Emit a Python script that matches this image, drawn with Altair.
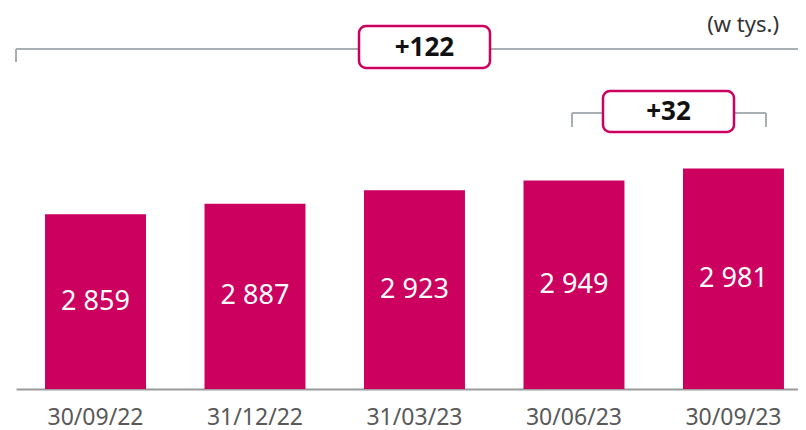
import altair as alt
import pandas as pd

dates = ["30/09/22", "31/12/22", "31/03/23", "30/06/23", "30/09/23"]
values = [2859, 2887, 2923, 2949, 2981]
unit_label = "(w tys.)"

Y_MIN, Y_MAX = 2394, 3408
MAGENTA = "#CC005F"
GRAY = "#A7AFB2"

df = pd.DataFrame({
    "date": dates,
    "value": values,
    "label": [f"{v:,}".replace(",", " ") for v in values],
})
one = pd.DataFrame({"k": [0]})

delta_total = f"+{values[-1] - values[0]}"
delta_q = f"+{values[-1] - values[-2]}"

x = alt.X(
    "date:N", sort=dates,
    scale=alt.Scale(paddingInner=0.367, paddingOuter=0.135, align=0.674),
    axis=alt.Axis(title=None, labelAngle=0, ticks=False, labelPadding=17,
                  labelFont="Noto Sans", labelFontSize=23, labelColor="#595959",
                  domainColor="#9a9a9a", domainWidth=2, grid=False),
)
yscale = alt.Scale(domain=[Y_MIN, Y_MAX], zero=False, nice=False)

bars = alt.Chart(df).mark_bar(color=MAGENTA).encode(
    x=x,
    y=alt.Y("value:Q", scale=yscale, axis=None),
    y2=alt.datum(Y_MIN),
)

labels = alt.Chart(df).transform_calculate(
    mid=f"(datum.value + {Y_MIN}) / 2"
).mark_text(font="Noto Sans", fontSize=27, color="white", baseline="middle").encode(
    x=alt.X("date:N", sort=dates),
    y=alt.Y("mid:Q", scale=yscale, axis=None),
    text="label:N",
)

def rule(x1, x2, y1, y2):
    return alt.Chart(one).mark_rule(color=GRAY, strokeWidth=2).encode(
        x=alt.value(x1), x2=alt.value(x2), y=alt.value(y1), y2=alt.value(y2))

def box(x1, x2, y1, y2):
    return alt.Chart(one).mark_rect(cornerRadius=7, fill="white", stroke=MAGENTA,
                                    strokeWidth=2.5).encode(
        x=alt.value(x1), x2=alt.value(x2), y=alt.value(y1), y2=alt.value(y2))

def btext(xc, yc, t):
    return alt.Chart(one).mark_text(font="Noto Sans", fontSize=26, fontWeight="bold",
                                    color="#111111", baseline="middle").encode(
        x=alt.value(xc), y=alt.value(yc), text=alt.value(t))

ann = [
    rule(0, 782, 41, 41),
    rule(0, 0, 41, 54),
    box(343, 474, 18, 60),
    btext(408.5, 39.5, delta_total),
    rule(556, 750, 105, 105),
    rule(556, 556, 105, 119),
    rule(750, 750, 105, 119),
    box(587, 718, 83, 124),
    btext(652.5, 104, delta_q),
    alt.Chart(one).mark_text(font="Noto Sans", fontSize=22, color="#333333",
                             align="right", baseline="middle").encode(
        x=alt.value(763), y=alt.value(17), text=alt.value(unit_label)),
]

chart = alt.layer(bars, labels, *ann).properties(
    width=782, height=381,
    padding={"left": 8, "top": 0, "right": 0, "bottom": 41},
    autosize=alt.AutoSizeParams(type="none"),
    background="white",
).configure_view(stroke=None)

chart.save("out.html", embed_options={"renderer": "svg", "actions": False})
